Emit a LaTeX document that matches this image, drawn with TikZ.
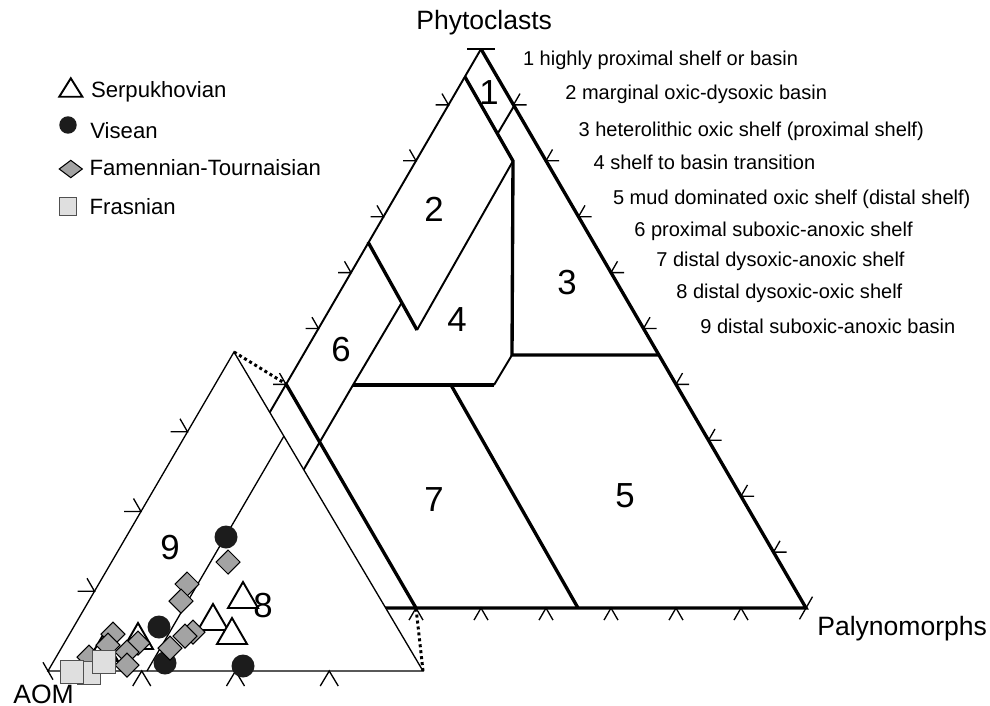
\documentclass[tikz,border=0pt]{standalone}
\usepackage{fontspec}
\setmainfont{Liberation Sans}
\usetikzlibrary{calc}
\definecolor{markerGray}{RGB}{163,163,163}
\definecolor{squareGray}{RGB}{223,223,223}
\definecolor{squareEdge}{RGB}{80,80,80}
\definecolor{dotBlack}{RGB}{28,28,28}

\begin{document}
\begin{tikzpicture}[x=0.02cm, y=-0.02cm,
        heavy/.style={line width=1.9pt},
        medium/.style={line width=1.1pt},
        fine/.style={line width=0.75pt},
        ticks/.style={line width=0.75pt},
        dots/.style={line width=1.7pt, dash pattern=on 1.7pt off 1.7pt},
        zonelabel/.style={inner sep=0, font=\fontsize{19.8}{22}\selectfont},
        listlabel/.style={anchor=base west, inner sep=0, font=\fontsize{11.4}{13}\selectfont},
        leglabel/.style={anchor=base west, inner sep=0, font=\fontsize{12.6}{14}\selectfont},
        axislabel/.style={anchor=base west, inner sep=0, font=\fontsize{15.1}{17}\selectfont},
        tri/.pic={\draw[line width=1.1pt, fill=white] (-15,13) -- (15,13) -- (0,-13) -- cycle;},
        dmd/.pic={\draw[line width=0.6pt, fill=markerGray] (0,-12) -- (12,0) -- (0,12) -- (-12,0) -- cycle;},
        sqr/.pic={\draw[line width=0.6pt, draw=squareEdge, fill=squareGray] (-11.5,-11.5) rectangle (11.5,11.5);},
        blackdot/.pic={\fill[dotBlack] (0,0) circle[radius=11.5];}]
        \useasboundingbox (0,0) rectangle (990,706);

        % main triangle
        \coordinate (phy) at (481,49);
        \coordinate (pal) at (806,608);
        \coordinate (aom) at (156,608);
        % enlarged AOM corner
        \coordinate (itop) at (234,352);
        \coordinate (iaom) at (48,671);
        \coordinate (ipal) at (423,671);

        % field boundaries
        \coordinate (z1l) at (465,77);
        \coordinate (z1r) at (513,161);
        \coordinate (z3l) at (498,133);
        \coordinate (z3r) at (514,106);
        \coordinate (z3b) at (512,355);
        \coordinate (z5r) at (659,355);
        \coordinate (z2l) at (368,242);
        \coordinate (z2b) at (417,330);
        \coordinate (z6t) at (401.5,303);
        \coordinate (z6b) at (353,385);
        \coordinate (z6e) at (286,500);
        \coordinate (z4b) at (494,385);
        \coordinate (z7t) at (451,385);
        \coordinate (z7b) at (578,608);
        \coordinate (cutt) at (286,384);
        \coordinate (cutb) at (416,608);
        \coordinate (i8t) at (284,436);
        \coordinate (i8b) at (147,671);

        \draw[medium] (phy) -- (aom);
        \draw[heavy] (phy) -- (pal) -- (aom);
        \draw[heavy] (z1l) -- (z1r) -- (z3b) -- (z5r);
        \draw[medium] (z3r) -- (z3l);
        \draw[medium] (z1r) -- (z2b);
        \draw[heavy] (z2l) -- (z2b);
        \draw[medium] (z6t) -- (z6b) -- (z6e);
        \draw[heavy] (z6b) -- (z4b);
        \draw[medium] (z4b) -- (z3b);
        \draw[heavy] (z7t) -- (z7b);
        \draw[heavy] (cutt) -- (cutb);

        \foreach \k in {1,...,9} {
            \draw[ticks] ($(phy)!\k/10!(aom)$) coordinate (t) ++(-13,0) -- (t) -- ++(-6.5,-11.3);
            \draw[ticks] ($(phy)!\k/10!(pal)$) coordinate (t) ++(13,0) -- (t) -- ++(6.5,-11.3);
            \draw[ticks] ($(aom)!\k/10!(pal)$) coordinate (t) ++(-7,12.1) -- (t) -- ++(7,12.1);
        }
        \draw[ticks] ($(phy)+(-14,0)$) -- ($(phy)+(14,0)$);
        \draw[ticks] ($(pal)+(6.5,-11.3)$) -- ($(pal)+(-6.5,11.3)$);

        % inset
        \fill[white] (itop) -- (iaom) -- (ipal) -- cycle;
        \draw[fine] (itop) -- (iaom) -- (ipal) -- cycle;
        \draw[fine] (i8t) -- (i8b);
        \foreach \k in {1,2,3} {
            \draw[ticks] ($(itop)!\k/4!(iaom)$) coordinate (t) ++(-17,0) -- (t) -- ++(-7.5,-13);
            \draw[ticks] ($(iaom)!\k/4!(ipal)$) coordinate (t) ++(-9,15) -- (t) -- ++(9,15);
        }
        \draw[ticks] ($(iaom)+(-5,-8.7)$) -- ($(iaom)+(5,8.7)$);
        \draw[dots] (itop) -- (cutt);
        \draw[dots] (ipal) -- (cutb);

        % samples
        \foreach \p in {(243,595), (213,617), (232,631), (138,636), (103,648)}
            \pic at \p {tri};
        \foreach \p in {(226,537), (159,627), (165,663), (243,666)}
            \pic at \p {blackdot};
        \foreach \p in {(228,562), (187,584), (181,601), (193,632), (185,636), (170,648),
                        (113,634), (108,645), (138,643), (127,652), (127,665), (89,657)}
            \pic at \p {dmd};
        \foreach \p in {(89,673), (72,672), (104,662)}
            \pic at \p {sqr};

        \node[zonelabel] (f1) at (489,92.5) {1};
        \node[zonelabel] (f2) at (434,209.5) {2};
        \node[zonelabel] (f3) at (567,282.5) {3};
        \node[zonelabel] (f4) at (457,320) {4};
        \node[zonelabel] (f5) at (625,496) {5};
        \node[zonelabel] (f6) at (341,349.5) {6};
        \node[zonelabel] (f7) at (434,500) {7};
        \node[zonelabel] (f8) at (263,606) {8};
        \node[zonelabel] (f9) at (170,548) {9};

        \node[axislabel] (phyname) at (416,29.5) {Phytoclasts};
        \node[axislabel] (palname) at (817,635) {Palynomorphs};
        \node[axislabel] (aomname) at (13,703) {AOM};

        \node[listlabel] (key1) at (522.7,66) {1 highly proximal shelf or basin};
        \node[listlabel] (key2) at (565,100) {2 marginal oxic-dysoxic basin};
        \node[listlabel] (key3) at (578.3,136.7) {3 heterolithic oxic shelf (proximal shelf)};
        \node[listlabel] (key4) at (593.3,169.3) {4 shelf to basin transition};
        \node[listlabel] (key5) at (612.7,204.3) {5 mud dominated oxic shelf (distal shelf)};
        \node[listlabel] (key6) at (634,236.7) {6 proximal suboxic-anoxic shelf};
        \node[listlabel] (key7) at (656,266) {7 distal dysoxic-anoxic shelf};
        \node[listlabel] (key8) at (676,298.3) {8 distal dysoxic-oxic shelf};
        \node[listlabel] (key9) at (700,333.3) {9 distal suboxic-anoxic basin};

        % legend
        \pic[xscale=0.77, yscale=0.71] at (70.8,87.5) {tri};
        \pic[scale=0.76] at (68,125) {blackdot};
        \pic[xscale=0.96, yscale=0.72] at (70.8,169) {dmd};
        \pic[scale=0.76] at (68,206.3) {sqr};
        \node[leglabel] (legserp) at (90.7,97.3) {Serpukhovian};
        \node[leglabel] (legvis) at (90,138.3) {Visean};
        \node[leglabel] (legfam) at (89.3,175.7) {Famennian-Tournaisian};
        \node[leglabel] (legfras) at (89.3,214) {Frasnian};
\end{tikzpicture}
\end{document}
